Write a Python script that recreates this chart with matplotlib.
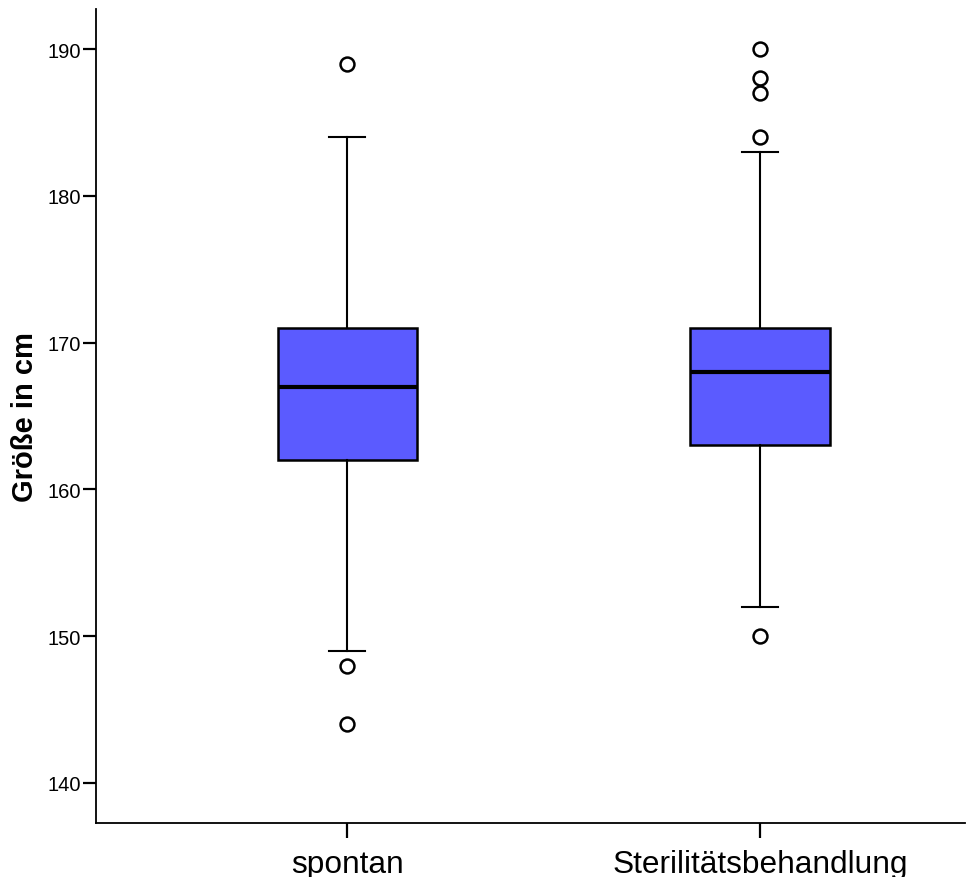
import matplotlib
matplotlib.use("Agg")
import matplotlib.pyplot as plt

plt.rcParams['font.family'] = ['Liberation Sans', 'DejaVu Sans']

# Boxplot summary
groups = ['spontan', 'Sterilitätsbehandlung']
whisker_low = [149, 152]
q1 = [162, 163]
median = [167, 168]
q3 = [171, 171]
whisker_high = [184, 183]
outliers = [[189, 148, 144], [190, 188, 187, 184, 150]]

y_ticks = [140, 150, 160, 170, 180, 190]

stats = []
for i, name in enumerate(groups):
    stats.append({
        'label': name,
        'whislo': whisker_low[i],
        'q1': q1[i],
        'med': median[i],
        'q3': q3[i],
        'whishi': whisker_high[i],
        'fliers': outliers[i],
    })

fig = plt.figure(figsize=(9.68, 8.78), dpi=100)
ax = fig.add_axes([0.0992, 0.0615, 0.8978, 0.9271])

ax.bxp(stats, positions=[1, 2], widths=0.338, patch_artist=True,
       boxprops=dict(facecolor='#5b5bff', edgecolor='black', linewidth=1.8),
       medianprops=dict(color='black', linewidth=3),
       whiskerprops=dict(color='black', linewidth=1.5),
       capprops=dict(color='black', linewidth=1.5),
       capwidths=0.087,
       flierprops=dict(marker='o', markerfacecolor='white', markeredgecolor='black',
                       markersize=10, markeredgewidth=1.8))

ax.set_xlim(0.391, 2.497)
ax.set_ylim(137.27, 192.73)
ax.set_yticks(y_ticks)
ax.set_xticks([1, 2])
ax.set_xticklabels(groups, fontsize=22.8)
ax.tick_params(axis='y', labelsize=14.5, length=9.5, width=1.6, direction='out', pad=1.5)
ax.tick_params(axis='x', length=10.5, width=1.6, direction='out', pad=8)
ax.set_ylabel('Größe in cm', fontsize=21, fontweight='bold', labelpad=6)

for side in ['top', 'right']:
    ax.spines[side].set_visible(False)
for side in ['left', 'bottom']:
    ax.spines[side].set_linewidth(1.3)

fig.savefig('out.png', dpi=100)
